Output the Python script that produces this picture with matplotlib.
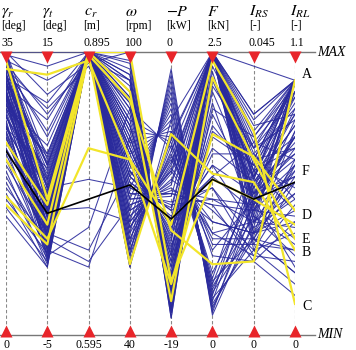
import numpy as np
import matplotlib
matplotlib.use("Agg")
import matplotlib.pyplot as plt

plt.rcParams['font.family'] = ['Liberation Serif', 'DejaVu Serif']
plt.rcParams['mathtext.fontset'] = 'stix'

# axis headers
symbols = [r'$\gamma_r$', r'$\gamma_t$', r'$c_r$', r'$\omega$', r'$-P$', r'$F$', r'$I_{RS}$', r'$I_{RL}$']
units = ['[deg]', '[deg]', '[m]', '[rpm]', '[kW]', '[kN]', '[-]', '[-]']
max_labels = ['35', '15', '0.895', '100', '0', '2.5', '0.045', '1.1']
min_labels = ['0', '-5', '0.595', '40', '-19', '0', '0', '0']

# all solutions, position on each axis in % of the range (0 = MIN, 100 = MAX)
blue_lines = [
    [100, 62, 100, 100, 6, 100, 62, 90], [98, 55, 100, 97, 8, 100, 70, 88],
    [96, 48, 100, 94, 9, 98, 55, 90], [95, 70, 100, 92, 11, 95, 66, 84],
    [93, 42, 100, 90, 13, 93, 48, 90], [92, 58, 100, 88, 15, 100, 74, 78],
    [90, 36, 100, 86, 14, 90, 58, 90], [89, 64, 100, 84, 17, 100, 44, 72],
    [88, 50, 100, 82, 16, 86, 52, 86], [86, 44, 100, 80, 20, 100, 62, 66],
    [85, 30, 100, 78, 21, 82, 40, 90], [84, 56, 100, 76, 22, 100, 68, 62],
    [82, 39, 100, 74, 24, 78, 50, 80], [81, 67, 100, 72, 26, 100, 36, 58],
    [80, 46, 100, 70, 28, 74, 56, 90], [100, 52, 100, 68, 29, 100, 46, 70],
    [99, 34, 100, 66, 31, 70, 60, 52], [97, 60, 100, 64, 33, 100, 42, 90],
    [95, 41, 100, 62, 35, 66, 54, 64], [94, 72, 100, 60, 37, 100, 64, 48],
    [92, 47, 100, 58, 39, 60, 38, 90], [91, 53, 100, 56, 41, 100, 50, 56],
    [90, 28, 100, 54, 42, 56, 44, 76], [88, 61, 100, 52, 45, 100, 58, 44],
    [87, 37, 100, 50, 47, 52, 34, 62], [86, 49, 100, 48, 49, 100, 47, 90],
    [84, 32, 100, 46, 51, 48, 40, 38], [83, 57, 100, 44, 53, 100, 52, 68],
    [82, 43, 100, 42, 55, 44, 30, 54], [80, 64, 100, 40, 57, 100, 45, 34],
    [78, 35, 100, 38, 59, 40, 36, 72], [77, 51, 100, 36, 61, 100, 60, 90],
    [76, 26, 100, 34, 63, 36, 28, 46], [74, 45, 100, 32, 65, 100, 42, 28],
    [73, 59, 100, 30, 67, 32, 32, 60], [72, 38, 100, 28, 69, 100, 55, 90],
    [70, 31, 100, 26, 72, 28, 26, 40], [68, 47, 100, 24, 76, 100, 48, 24],
    [100, 45, 100, 24, 94, 7, 40, 60], [98, 38, 100, 28, 92, 8, 48, 70],
    [96, 54, 100, 32, 90, 10, 36, 50], [93, 33, 100, 36, 88, 12, 52, 78],
    [91, 60, 100, 40, 86, 9, 44, 42], [89, 42, 100, 44, 84, 14, 58, 66],
    [87, 27, 100, 48, 82, 11, 34, 56], [85, 52, 100, 52, 80, 16, 46, 86],
    [83, 36, 100, 56, 78, 13, 30, 36], [81, 63, 100, 60, 76, 18, 54, 74],
    [79, 40, 100, 64, 74, 15, 38, 48], [77, 55, 100, 68, 72, 20, 62, 90],
    [75, 30, 100, 72, 70, 17, 42, 32], [73, 48, 100, 76, 68, 22, 50, 64],
    [71, 35, 100, 80, 66, 19, 34, 22], [66, 40, 100, 90, 10, 88, 66, 90],
    [64, 33, 100, 70, 30, 100, 56, 78], [62, 29, 100, 50, 50, 46, 44, 58],
    [60, 36, 100, 30, 70, 100, 36, 40], [58, 25, 100, 84, 16, 80, 70, 90],
    [56, 31, 100, 62, 38, 60, 50, 62], [54, 27, 100, 42, 58, 100, 40, 50],
    [52, 34, 100, 96, 8, 100, 78, 90], [50, 24, 100, 74, 26, 72, 60, 82],
    [48, 29, 100, 56, 44, 100, 46, 66], [45, 26, 100, 38, 62, 34, 34, 30],
    [42, 24, 100, 66, 34, 100, 54, 74], [78, 36, 30, 58, 40, 100, 50, 70],
    [84, 44, 45, 40, 58, 36, 40, 54], [72, 30, 24, 70, 28, 100, 62, 90],
    [90, 52, 55, 52, 46, 48, 46, 60], [66, 28, 38, 80, 20, 100, 56, 84],
    [70, 34, 26, 46, 52, 40, 36, 44], [100, 85, 96, 100, 6, 100, 78, 90],
    [97, 90, 98, 82, 18, 100, 72, 90], [94, 80, 95, 66, 32, 64, 64, 80],
    [99, 95, 100, 44, 54, 100, 58, 70], [100, 100, 100, 58, 40, 56, 68, 86],
    [96, 78, 97, 90, 12, 100, 76, 90], [91, 82, 100, 34, 64, 30, 48, 56],
    [88, 76, 100, 74, 24, 100, 66, 76], [92, 44, 100, 62, 36, 100, 30, 18],
    [86, 38, 100, 48, 50, 46, 26, 14], [80, 50, 100, 86, 14, 100, 34, 22],
    [74, 32, 100, 54, 44, 52, 28, 26], [68, 42, 100, 38, 60, 100, 32, 30],
    [94, 60, 100, 92, 8, 100, 95, 90],
]

# selected solutions (yellow) and F (black)
yellow_lines = [
    [68, 46, 99, 83, 37, 25, 26, 90],   # A
    [94, 92, 97, 62, 18, 71, 63, 44],   # D
    [62, 39, 100, 86, 12, 91, 62, 34],  # E
    [46, 32, 99, 25, 71, 57, 54, 30],   # B
    [49, 34, 66, 62, 39, 97, 72, 11],   # C
    [97, 48, 100, 100, 19, 55, 48, 39],
]
black_line = [65, 43, 48, 53, 41, 55, 48, 54]  # F

point_names = ['A', 'F', 'D', 'E', 'B', 'C']
point_y = [92, 57.6, 42.4, 33.6, 29, 10.2]

W, H = 356, 350
x_left, x_right = 6, 295      # px
y_top, y_bot = 52, 335        # px from top

fig = plt.figure(figsize=(W / 100, H / 100), dpi=100)
ax = fig.add_axes([x_left / W, (H - y_bot) / H, (x_right - x_left) / W, (y_bot - y_top) / H])
ax.set_xlim(0, 7)
ax.set_ylim(0, 100)
ax.axis('off')

n = len(symbols)
xs = np.arange(n)
px = 7 / (x_right - x_left)      # data units per pixel in x
py = 100 / (y_bot - y_top)       # data units per pixel in y

for row in blue_lines:
    ax.plot(xs, row, color='#2a2a9c', lw=0.75, alpha=0.9, zorder=2)
for row in yellow_lines:
    ax.plot(xs, row, color='#f2e52a', lw=1.6, zorder=3)
ax.plot(xs, black_line, color='black', lw=1.2, zorder=4)

# axes
for i in range(n):
    ax.plot([i, i], [0, 100], color='#888888', lw=0.8, ls=(0, (3, 2)), zorder=1)
ax.plot([-x_left * px, 7 + 20 * px], [100, 100], color='#777777', lw=1.0, clip_on=False, zorder=1)
ax.plot([-x_left * px, 7 + 20 * px], [0, 0], color='#777777', lw=1.0, clip_on=False, zorder=1)
ax.plot(xs, [100 - 4.5 * py] * n, 'v', color='#e8252a', ms=8, mec='none', clip_on=False, zorder=5)
ax.plot(xs, [4.5 * py] * n, '^', color='#e8252a', ms=8, mec='none', clip_on=False, zorder=5)

ax.text(7 + 22 * px, 100, 'MAX', style='italic', fontsize=10, va='center', ha='left', clip_on=False)
ax.text(7 + 22 * px, 0, 'MIN', style='italic', fontsize=10, va='center', ha='left', clip_on=False)

for i in range(n):
    x0 = max(i - 5 * px, -x_left * px)
    ax.text(x0, 100 + (y_top - 12) * py, symbols[i], fontsize=11.5, ha='left', va='center', clip_on=False)
    ax.text(x0, 100 + (y_top - 26) * py, units[i], fontsize=8.5, ha='left', va='center', clip_on=False)
    ax.text(x0, 100 + (y_top - 43) * py, max_labels[i], fontsize=8.5, ha='left', va='center', clip_on=False)
    ax.text(i, -10 * py, min_labels[i], fontsize=8.5, ha='center', va='center', clip_on=False)

for name, yv in zip(point_names, point_y):
    ax.text(7 + 7 * px, yv, name, fontsize=10, ha='left', va='center', clip_on=False)

fig.savefig('out.png', dpi=100)
